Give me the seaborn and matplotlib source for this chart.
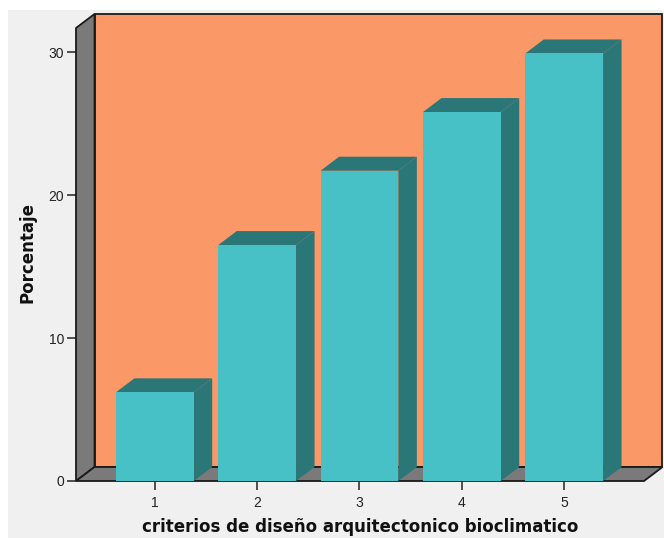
import matplotlib
matplotlib.use("Agg")
import matplotlib.pyplot as plt
from matplotlib.patches import Polygon, Rectangle
import seaborn as sns
import pandas as pd

# Percentage of responses per rating level
categories = ["1", "2", "3", "4", "5"]
porcentaje = [6.2, 16.5, 21.7, 25.8, 29.9]
y_ticks = [0, 10, 20, 30]

x_label = "criterios de diseño arquitectonico bioclimatico"
y_label = "Porcentaje"

FRONT = "#47c1c5"
SHADE = "#2b7677"
WALL = "#fb9867"
FLOOR = "#7a7a7a"
BG = "#f0f0f0"

sns.set_theme(style="white")
plt.rcParams["font.family"] = ["Liberation Sans", "DejaVu Sans"]

W, H, DPI = 664, 538, 100
fig = plt.figure(figsize=(W / DPI, H / DPI), dpi=DPI)
fig.patch.set_facecolor("white")
fig.patches.append(Rectangle((8 / W, 0), 1, 1 - 10 / H, transform=fig.transFigure,
                             facecolor=BG, edgecolor="none", zorder=-10))

left, right, bottom, top = 76, 644, 481, 28
ax = fig.add_axes([left / W, 1 - bottom / H, (right - left) / W, (bottom - top) / H])
ax.set_facecolor("none")

df = pd.DataFrame({"criterio": categories, "pct": porcentaje})
sns.barplot(data=df, x="criterio", y="pct", color=FRONT, saturation=1,
            width=0.76, ax=ax, edgecolor="none", linewidth=0)

xmin, xmax = -0.77, 4.78
ymin, ymax = 0, 31.68
ax.set_xlim(xmin, xmax)
ax.set_ylim(ymin, ymax)

# depth offset of the pseudo-3D box, in pixels converted to data units
dpx, dpy = 18.5, 14
dx = dpx * (xmax - xmin) / (right - left)
dy = dpy * (ymax - ymin) / (bottom - top)

edge = dict(edgecolor="#1a1a1a", linewidth=1.3, clip_on=False)
# back wall
ax.add_patch(Polygon([(xmin + dx, dy), (xmax + dx, dy), (xmax + dx, ymax + dy),
                      (xmin + dx, ymax + dy)], facecolor=WALL, zorder=0.5, **edge))
# left wall
ax.add_patch(Polygon([(xmin, 0), (xmin, ymax), (xmin + dx, ymax + dy), (xmin + dx, dy)],
                     facecolor=FLOOR, zorder=0.6, **edge))
# floor
ax.add_patch(Polygon([(xmin, 0), (xmax, 0), (xmax + dx, dy), (xmin + dx, dy)],
                     facecolor=FLOOR, zorder=0.6, **edge))

# side and top faces of each bar
for p in list(ax.patches):
    if not isinstance(p, Rectangle):
        continue
    x0 = p.get_x()
    x1 = x0 + p.get_width()
    h = p.get_height()
    p.set_zorder(3)
    ax.add_patch(Polygon([(x1, 0), (x1, h), (x1 + dx, h + dy), (x1 + dx, dy)],
                         facecolor=SHADE, edgecolor="none", zorder=2, clip_on=False))
    ax.add_patch(Polygon([(x0, h), (x1, h), (x1 + dx, h + dy), (x0 + dx, h + dy)],
                         facecolor=SHADE, edgecolor="none", zorder=2, clip_on=False))

for s in ax.spines.values():
    s.set_visible(False)

ax.set_yticks(y_ticks)
ax.set_yticklabels([str(t) for t in y_ticks])
ax.tick_params(axis="both", direction="out", length=6.5, width=1.1, color="#222222",
               labelsize=10, labelcolor="#222222", left=True, bottom=True)
ax.tick_params(axis="x", pad=4)
ax.tick_params(axis="y", pad=2)

label_font = dict(fontsize=12, fontweight="bold", color="#111111",
                  family=["DejaVu Sans"])
ax.set_xlabel(x_label, **label_font)
ax.set_ylabel(y_label, **label_font)
ax.xaxis.set_label_coords(0.5, -(536 - bottom) / (bottom - top))
ax.xaxis.label.set_va("bottom")
ax.yaxis.set_label_coords((27 - left) / (right - left), 0.505)
ax.yaxis.label.set_va("center")

fig.savefig("out.png", dpi=DPI, facecolor=fig.get_facecolor())
